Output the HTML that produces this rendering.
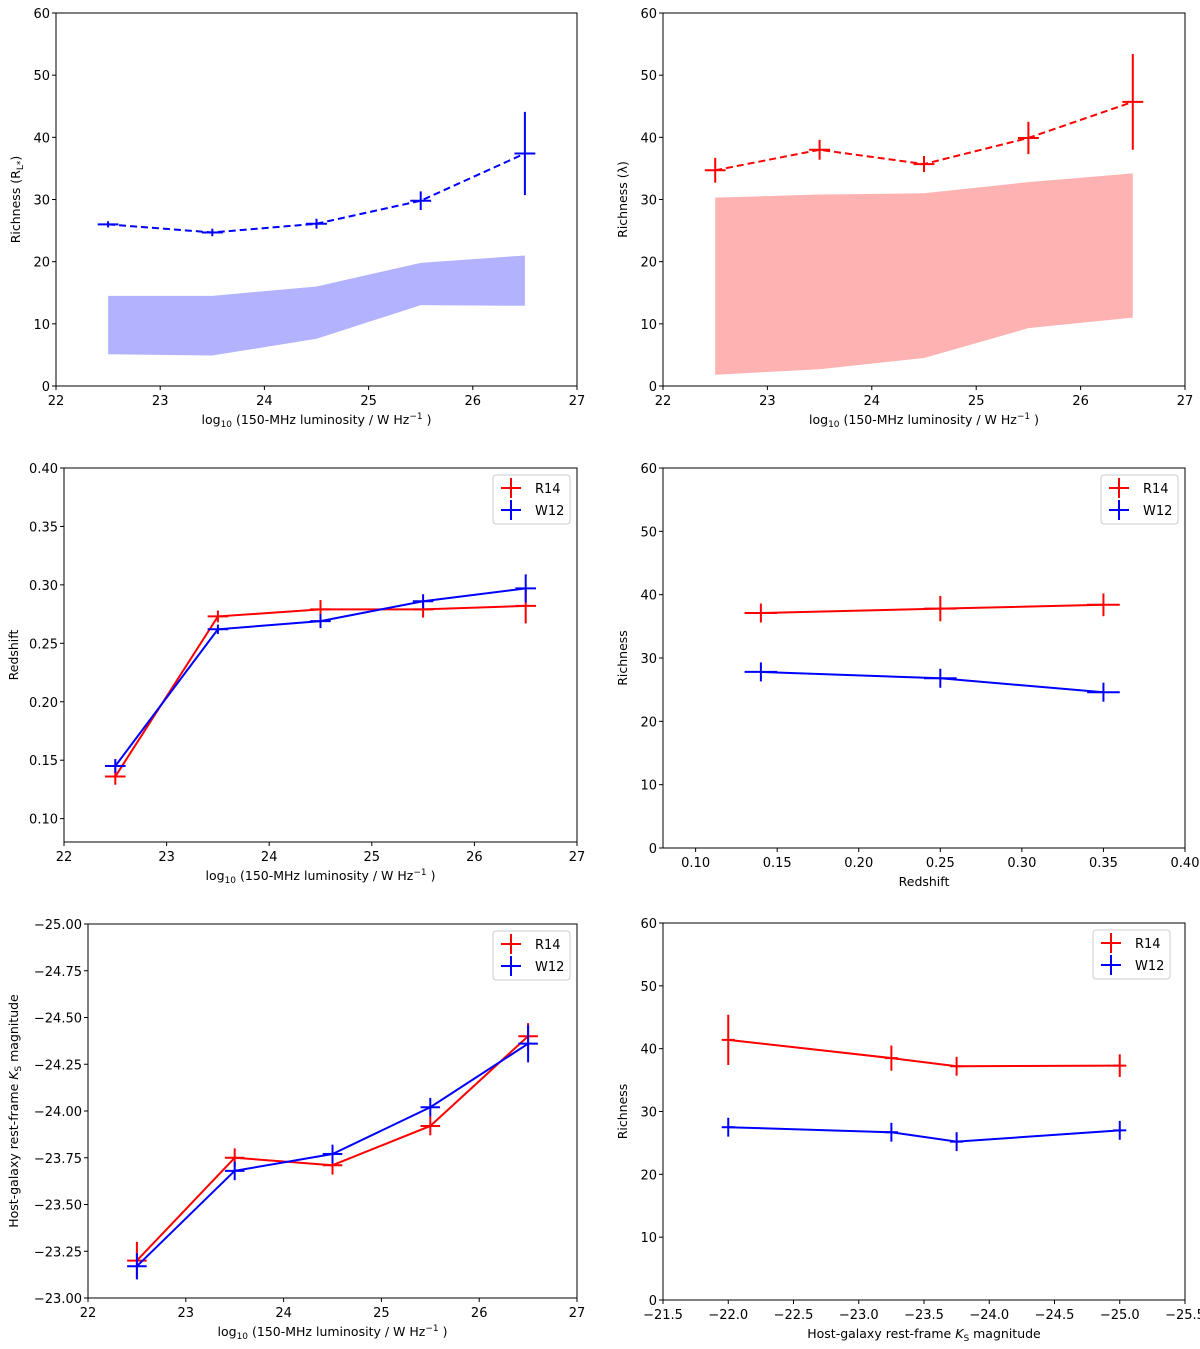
<!DOCTYPE html>
<html><head><meta charset="utf-8">
<style>
body{margin:0;background:#fff;}
svg text{font-family:"DejaVu Sans","Liberation Sans",sans-serif;fill:#000;}
</style></head>
<body>
<svg id="fig" width="1200" height="1344" viewBox="0 0 1200 1344" xmlns="http://www.w3.org/2000/svg"></svg>
<script>
// Panel 1 data
const p1X = [22.5, 23.5, 24.5, 25.5, 26.5];
const p1Y = [26.0, 24.7, 26.1, 29.8, 37.4];
const p1Err = [0.5, 0.6, 0.8, 1.5, 6.7];
const p1BandHi = [14.5, 14.5, 16.0, 19.8, 21.0];
const p1BandLo = [5.1, 4.9, 7.6, 13.0, 12.9];
// Panel 2 data
const p2X = [22.5, 23.5, 24.5, 25.5, 26.5];
const p2Y = [34.7, 38.0, 35.7, 39.9, 45.7];
const p2Err = [2.0, 1.6, 1.3, 2.6, 7.7];
const p2BandHi = [30.3, 30.8, 31.0, 32.8, 34.2];
const p2BandLo = [1.8, 2.7, 4.5, 9.3, 11.0];
// Panel 3 data
const p3X = [22.5, 23.5, 24.5, 25.5, 26.5];
const p3R14 = [0.136, 0.273, 0.279, 0.279, 0.282];
const p3R14Err = [0.007, 0.005, 0.008, 0.007, 0.015];
const p3W12 = [0.145, 0.262, 0.269, 0.286, 0.297];
const p3W12Err = [0.006, 0.004, 0.006, 0.006, 0.012];
// Panel 4 data
const p4X = [0.14, 0.25, 0.35];
const p4R14 = [37.1, 37.8, 38.4];
const p4R14Err = [1.5, 2.0, 1.8];
const p4W12 = [27.8, 26.8, 24.6];
const p4W12Err = [1.5, 1.5, 1.5];
// Panel 5 data
const p5X = [22.5, 23.5, 24.5, 25.5, 26.5];
const p5R14 = [-23.2, -23.75, -23.71, -23.92, -24.4];
const p5R14Err = [0.1, 0.05, 0.05, 0.05, 0.07];
const p5W12 = [-23.17, -23.68, -23.77, -24.02, -24.36];
const p5W12Err = [0.07, 0.05, 0.05, 0.05, 0.1];
// Panel 6 data
const p6X = [-22.0, -23.25, -23.75, -25.0];
const p6R14 = [41.4, 38.5, 37.2, 37.3];
const p6R14Err = [4.0, 2.0, 1.5, 1.8];
const p6W12 = [27.5, 26.7, 25.2, 27.0];
const p6W12Err = [1.5, 1.5, 1.5, 1.5];
// Tick labels
const lumTicks = ["22","23","24","25","26","27"];
const rich60Ticks = ["0","10","20","30","40","50","60"];
const zTicksY = ["0.10","0.15","0.20","0.25","0.30","0.35","0.40"];
const zTicksX = ["0.10","0.15","0.20","0.25","0.30","0.35","0.40"];
const magTicksY = ["−25.00","−24.75","−24.50","−24.25","−24.00","−23.75","−23.50","−23.25","−23.00"];
const magTicksX = ["−21.5","−22.0","−22.5","−23.0","−23.5","−24.0","−24.5","−25.0","−25.5"];

const NS="http://www.w3.org/2000/svg";
const svg=document.getElementById('fig');
function mk(tag,attrs,parent){const e=document.createElementNS(NS,tag);for(const k in attrs)e.setAttribute(k,attrs[k]);(parent||svg).appendChild(e);return e;}
function num(s){return parseFloat(s.replace('−','-'));}

function panel(id,b,xr,yr,xt,yt,xlab,ylab){
  const g=mk('g',{});
  
  
  const sx=v=>b.l+(v-xr[0])/(xr[1]-xr[0])*(b.r-b.l);
  const sy=v=>b.b-(v-yr[0])/(yr[1]-yr[0])*(b.b-b.t);
  const ax=mk('g',{},g);
  
  
  xt.forEach(t=>{const x=sx(num(t));mk('line',{x1:x,x2:x,y1:b.b,y2:b.b+4,stroke:'#000','stroke-width':1},ax);
    const tx=mk('text',{x:x,y:b.b+19,'font-size':13,'text-anchor':'middle'},ax);tx.textContent=t;});
  yt.forEach(t=>{const y=sy(num(t));mk('line',{x1:b.l-4,x2:b.l,y1:y,y2:y,stroke:'#000','stroke-width':1},ax);
    const tx=mk('text',{x:b.l-6,y:y+5,'font-size':13,'text-anchor':'end'},ax);tx.textContent=t;});
  const xl=mk('text',{x:(b.l+b.r)/2,y:b.b+38,'font-size':12.5,'text-anchor':'middle'},g);
  
  
  xl.innerHTML=xlab;
  const yl=mk('text',{x:0,y:0,'font-size':12.5,'text-anchor':'middle',transform:`translate(${b.l-(b.yoff||38)},${(b.t+b.b)/2}) rotate(-90)`},g);
  
  
  yl.innerHTML=ylab;
  return {g,sx,sy,b};
}
function frame(P){mk('rect',{x:P.b.l,y:P.b.t,width:P.b.r-P.b.l,height:P.b.b-P.b.t,fill:'none',stroke:'#000','stroke-width':1},P.g);}
function band(P,xs,hi,lo,color,name){
  let d='M'+xs.map((x,i)=>P.sx(x)+','+P.sy(hi[i])).join(' L');
  for(let i=xs.length-1;i>=0;i--)d+=' L'+P.sx(xs[i])+','+P.sy(lo[i]);
  const e=mk('path',{d:d+'Z',fill:color,stroke:'none'},P.g);
  
  
}
function series(P,xs,ys,err,xerr,color,dash,name){
  const sg=mk('g',{},P.g);
  
  
  mk('polyline',{points:xs.map((x,i)=>P.sx(x)+','+P.sy(ys[i])).join(' '),fill:'none',stroke:color,'stroke-width':2,'stroke-dasharray':dash||'none'},sg);
  xs.forEach((x,i)=>{
    const m=mk('g',{},sg);
    
    
    mk('line',{x1:P.sx(x),x2:P.sx(x),y1:P.sy(ys[i]-err[i]),y2:P.sy(ys[i]+err[i]),stroke:color,'stroke-width':2},m);
    mk('line',{x1:P.sx(x-xerr),x2:P.sx(x+xerr),y1:P.sy(ys[i]),y2:P.sy(ys[i]),stroke:color,'stroke-width':2},m);
  });
}
function legend(P,x,y){
  const lg=mk('g',{},P.g);
  
  
  mk('rect',{x:x,y:y,width:77,height:49,rx:3,fill:'#fff',stroke:'#ccc','stroke-width':1},lg);
  [['R14','red'],['W12','blue']].forEach((s,i)=>{
    const e=mk('g',{},lg);
    
    
    const cy=y+13+i*22;
    mk('line',{x1:x+8,x2:x+28,y1:cy,y2:cy,stroke:s[1],'stroke-width':2},e);
    mk('line',{x1:x+18,x2:x+18,y1:cy-10,y2:cy+10,stroke:s[1],'stroke-width':2},e);
    const t=mk('text',{x:x+42,y:cy+5,'font-size':13},e);t.textContent=s[0];
  });
}
const lumLab='log<tspan font-size="9" dy="3">10</tspan><tspan dy="-3"> (150-MHz luminosity / W Hz</tspan><tspan font-size="9" dy="-5">−1</tspan><tspan dy="5"> )</tspan>';
const ksLab='Host-galaxy rest-frame <tspan font-style="italic">K</tspan><tspan font-size="9" dy="3">S</tspan><tspan dy="-3"> magnitude</tspan>';

// Panel 1
let P=panel('panel-richness-rl-vs-luminosity',{l:56,r:577,t:13,b:386,yoff:36},[22,27],[0,60],lumTicks,rich60Ticks,lumLab,'Richness (R<tspan font-size="9" dy="3">L*</tspan><tspan dy="-3">)</tspan>');
band(P,p1X,p1BandHi,p1BandLo,'#b2b2ff','band-w12');
series(P,p1X,p1Y,p1Err,0.1,'blue','7,4','series-w12');
frame(P);
// Panel 2
P=panel('panel-richness-lambda-vs-luminosity',{l:663,r:1185,t:13,b:386,yoff:36},[22,27],[0,60],lumTicks,rich60Ticks,lumLab,'Richness (λ)');
band(P,p2X,p2BandHi,p2BandLo,'#ffb2b2','band-r14');
series(P,p2X,p2Y,p2Err,0.1,'red','7,4','series-r14');
frame(P);
// Panel 3
P=panel('panel-redshift-vs-luminosity',{l:64,r:577,t:468,b:842,yoff:46},[22,27],[0.08,0.40],lumTicks,zTicksY,lumLab,'Redshift');
series(P,p3X,p3R14,p3R14Err,0.1,'red',null,'series-r14');
series(P,p3X,p3W12,p3W12Err,0.1,'blue',null,'series-w12');
frame(P);legend(P,493,475);
// Panel 4
P=panel('panel-richness-vs-redshift',{l:663,r:1185,t:468,b:848,yoff:36},[0.08,0.40],[0,60],zTicksX,rich60Ticks,'Redshift','Richness');
series(P,p4X,p4R14,p4R14Err,0.01,'red',null,'series-r14');
series(P,p4X,p4W12,p4W12Err,0.01,'blue',null,'series-w12');
frame(P);legend(P,1101,475);
// Panel 5
P=panel('panel-ks-magnitude-vs-luminosity',{l:88,r:577,t:924,b:1298,yoff:70},[22,27],[-23,-25],lumTicks,magTicksY,lumLab,ksLab);
series(P,p5X,p5R14,p5R14Err,0.1,'red',null,'series-r14');
series(P,p5X,p5W12,p5W12Err,0.1,'blue',null,'series-w12');
frame(P);legend(P,493,931);
// Panel 6
P=panel('panel-richness-vs-ks-magnitude',{l:663,r:1185,t:923,b:1300,yoff:36},[-21.5,-25.5],[0,60],magTicksX,rich60Ticks,ksLab,'Richness');
series(P,p6X,p6R14,p6R14Err,0.05,'red',null,'series-r14');
series(P,p6X,p6W12,p6W12Err,0.05,'blue',null,'series-w12');
frame(P);legend(P,1093,930);
</script>
</body></html>
